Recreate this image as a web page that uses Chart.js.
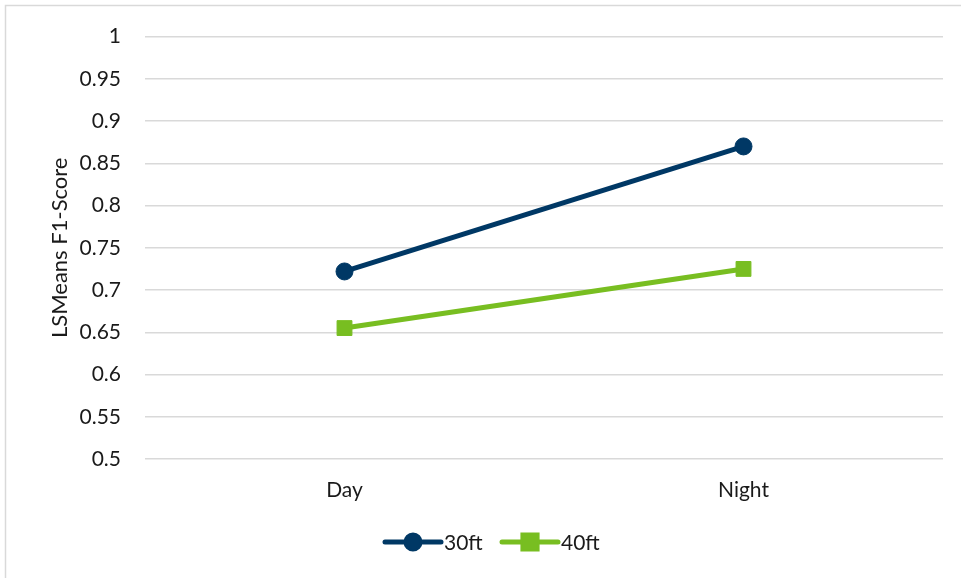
<!DOCTYPE html>
<html>
<head>
<meta charset="utf-8">
<script src="https://cdn.jsdelivr.net/npm/chart.js@4"></script>
<style>
  html, body { margin: 0; padding: 0; background: #fff; }
  #wrap { width: 961px; height: 578px; position: relative; }
  canvas { display: block; }
</style>
</head>
<body>
<div id="wrap"><canvas id="c" width="961" height="578"></canvas></div>
<script>
// Lighting condition on the x axis
const categories = ['Day', 'Night'];
// Least-squares mean F1 score per camera height
const seriesNames = ['30ft', '40ft'];
const values30ft = [0.722, 0.870];
const values40ft = [0.655, 0.725];
// Y axis range and step
const yMin = 0.5;
const yMax = 1;
const yStep = 0.05;
const yTitle = 'LSMeans F1-Score';

const NAVY = '#003865';
const GREEN = '#78BE21';
const FONT = 'Lato, "Open Sans", sans-serif';
const TEXT = '#1a1a1a';

// Light frame along the top and left of the figure, plus the legend
const framePlugin = {
  id: 'frame',
  beforeDraw(chart) {
    const ctx = chart.ctx;
    ctx.save();
    ctx.fillStyle = '#ffffff';
    ctx.fillRect(0, 0, chart.width, chart.height);
    ctx.strokeStyle = '#d9d9d9';
    ctx.lineWidth = 1.5;
    ctx.beginPath();
    ctx.moveTo(5.5, chart.height + 2);
    ctx.lineTo(5.5, 5.5);
    ctx.lineTo(chart.width + 2, 5.5);
    ctx.stroke();
    ctx.restore();
  },
  afterDraw(chart) {
    const ctx = chart.ctx;
    const y = 542;
    const items = [
      { ds: chart.data.datasets[0], x0: 385 },
      { ds: chart.data.datasets[1], x0: 502 }
    ];
    ctx.save();
    ctx.font = '21px ' + FONT;
    ctx.textBaseline = 'middle';
    ctx.textAlign = 'left';
    items.forEach(it => {
      const ds = it.ds;
      const len = 56;
      ctx.strokeStyle = ds.borderColor;
      ctx.lineWidth = 5;
      ctx.lineCap = 'round';
      ctx.beginPath();
      ctx.moveTo(it.x0, y);
      ctx.lineTo(it.x0 + len, y);
      ctx.stroke();
      const cx = it.x0 + len / 2;
      Chart.helpers.drawPoint(ctx, {
        pointStyle: ds.pointStyle,
        radius: ds.pointStyle === 'rect' ? 10 : 7,
        borderWidth: 1
      }, cx, y);
      ctx.fillStyle = ds.pointBackgroundColor;
      ctx.strokeStyle = ds.pointBorderColor;
      ctx.fill();
      ctx.fillStyle = TEXT;
      ctx.fillText(ds.label, it.x0 + len + 3, y + 1);
    });
    ctx.restore();
  }
};

new Chart(document.getElementById('c'), {
  type: 'line',
  data: {
    labels: categories,
    datasets: [
      {
        label: seriesNames[0],
        data: values30ft,
        borderColor: NAVY,
        backgroundColor: NAVY,
        pointBackgroundColor: NAVY,
        pointBorderColor: NAVY,
        borderWidth: 5,
        pointStyle: 'circle',
        pointRadius: 8.5,
        pointBorderWidth: 1,
        tension: 0
      },
      {
        label: seriesNames[1],
        data: values40ft,
        borderColor: GREEN,
        backgroundColor: GREEN,
        pointBackgroundColor: GREEN,
        pointBorderColor: GREEN,
        borderWidth: 5,
        pointStyle: 'rect',
        pointRadius: 10.5,
        pointBorderWidth: 1,
        tension: 0
      }
    ]
  },
  options: {
    responsive: false,
    animation: false,
    devicePixelRatio: 1,
    layout: { padding: { left: 47, right: 18, top: 33, bottom: 0 } },
    plugins: {
      legend: { display: false },
      tooltip: { enabled: false }
    },
    scales: {
      x: {
        offset: true,
        grid: { display: false, drawTicks: false },
        border: { display: false },
        ticks: {
          color: TEXT,
          font: { family: FONT, size: 21 },
          padding: 19
        },
        afterFit(scale) { scale.height = 119; }
      },
      y: {
        min: yMin,
        max: yMax,
        ticks: {
          stepSize: yStep,
          color: TEXT,
          font: { family: FONT, size: 21 },
          padding: 24,
          callback: v => String(Math.round(v * 100) / 100)
        },
        grid: { color: '#d9d9d9', lineWidth: 1.5, drawTicks: false },
        border: { display: false },
        title: {
          display: true,
          text: yTitle,
          color: TEXT,
          font: { family: FONT, size: 22 },
          padding: { top: 0, bottom: 8 }
        },
        afterFit(scale) { scale.width = 98; }
      }
    }
  },
  plugins: [framePlugin]
});
</script>
</body>
</html>
